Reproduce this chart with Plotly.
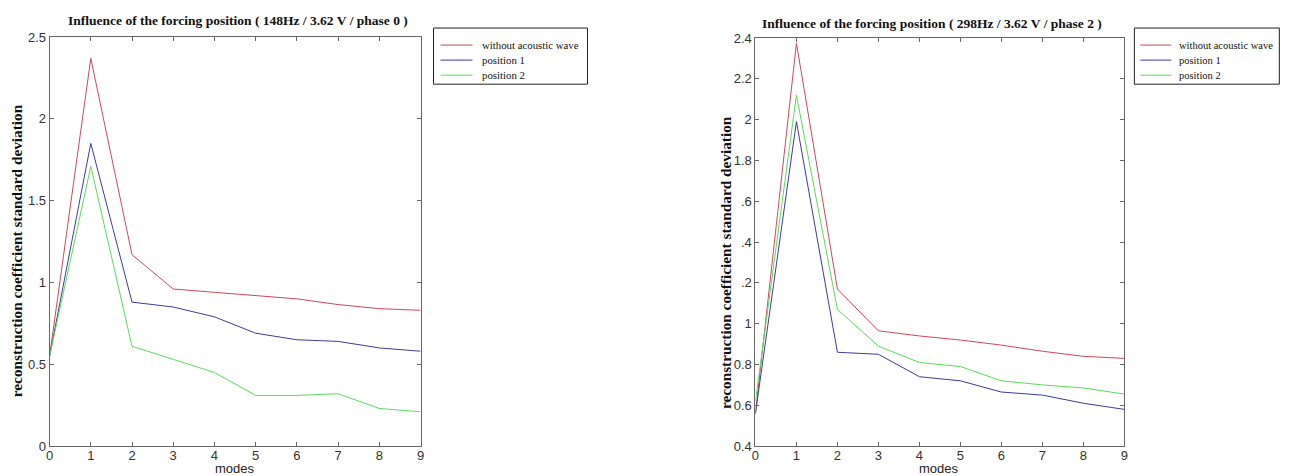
import plotly.graph_objects as go

modes = [0, 1, 2, 3, 4, 5, 6, 7, 8, 9]

# Left panel (148Hz / 3.62 V / phase 0)
left_without = [0.55, 2.37, 1.17, 0.96, 0.94, 0.92, 0.90, 0.865, 0.84, 0.83]
left_pos1 = [0.55, 1.85, 0.88, 0.85, 0.79, 0.69, 0.65, 0.64, 0.60, 0.58]
left_pos2 = [0.55, 1.71, 0.61, 0.53, 0.45, 0.31, 0.31, 0.32, 0.23, 0.21]

# Right panel (298Hz / 3.62 V / phase 2)
right_without = [0.56, 2.375, 1.17, 0.965, 0.94, 0.92, 0.895, 0.865, 0.84, 0.83]
right_pos1 = [0.56, 1.99, 0.86, 0.85, 0.74, 0.72, 0.665, 0.65, 0.61, 0.58]
right_pos2 = [0.62, 2.12, 1.07, 0.89, 0.81, 0.79, 0.72, 0.70, 0.685, 0.655]

series_names = ["without acoustic wave", "position 1", "position 2"]
left_ticks = [0, 0.5, 1, 1.5, 2, 2.5]
left_ticktext = ["0", "0.5", "1", "1.5", "2", "2.5"]
right_ticks = [0.4, 0.6, 0.8, 1.0, 1.2, 1.4, 1.6, 1.8, 2.0, 2.2, 2.4]
right_ticktext = ["0.4", "0.6", "0.8", "1", ".2", ".4", ".6", "1.8", "2", "2.2", "2.4"]
titles = ["Influence of the forcing position ( 148Hz / 3.62 V / phase 0 )",
          "Influence of the forcing position ( 298Hz / 3.62 V / phase 2 )"]
ylabel = "reconstruction coefficient standard deviation"
xlabel = "modes"

colors = ["#cc4858", "#3c3c98", "#5ada5a"]

W, H = 1291, 476
# empirical mapping of target picture pixels onto figure pixels
SX, OX = 0.994, 11.4
SY, OY = 0.966, 15.0


def px(x):
    return ((x - OX) / SX) / W


def py(y):
    return 1 - ((y - OY) / SY) / H


fig = go.Figure()
for name, ys, c in zip(series_names, [left_without, left_pos1, left_pos2], colors):
    fig.add_trace(go.Scatter(x=modes, y=ys, mode="lines", name=name,
                             line=dict(color=c, width=1), xaxis="x", yaxis="y",
                             showlegend=False))
for name, ys, c in zip(series_names, [right_without, right_pos1, right_pos2], colors):
    fig.add_trace(go.Scatter(x=modes, y=ys, mode="lines", name=name,
                             line=dict(color=c, width=1), xaxis="x2", yaxis="y2",
                             showlegend=False))

axis_common = dict(showline=True, linecolor="#666666", linewidth=1, mirror="ticks",
                   ticks="inside", ticklen=4, tickcolor="#666666", showgrid=False,
                   zeroline=False, tickfont=dict(family="Liberation Sans", size=13, color="#333333"))

fig.update_layout(
    width=W, height=H,
    margin=dict(l=0, r=0, t=0, b=0),
    paper_bgcolor="white", plot_bgcolor="white",
    showlegend=False,
    xaxis=dict(domain=[px(49), px(420)], range=[0, 9], tickvals=modes, anchor="y",
               ticklabelstandoff=-3, **axis_common),
    yaxis=dict(domain=[py(445), py(37)], range=[0, 2.5], tickvals=left_ticks,
               ticktext=left_ticktext, anchor="x", **axis_common),
    xaxis2=dict(domain=[px(755), px(1124)], range=[0, 9], tickvals=modes, anchor="y2",
                ticklabelstandoff=-3, **axis_common),
    yaxis2=dict(domain=[py(445), py(38)], range=[0.4, 2.4], tickvals=right_ticks,
                ticktext=right_ticktext, anchor="x2", **axis_common),
)

# Legend boxes with sample lines and labels
legend_boxes = [(433, 587, 440, 472, 479), (1134, 1279, 1140, 1171, 1177)]
legend_font = [10.8, 10.5]
for (lx, rx, l0, l1, tx), fs in zip(legend_boxes, legend_font):
    fig.add_shape(type="rect", xref="paper", yref="paper",
                  x0=px(lx), x1=px(rx), y0=py(28), y1=py(84),
                  line=dict(color="#222222", width=1), fillcolor="white", layer="above")
    for i, (name, c) in enumerate(zip(series_names, colors)):
        yy = 45 + i * 15
        fig.add_shape(type="line", xref="paper", yref="paper",
                      x0=px(l0), x1=px(l1), y0=py(yy), y1=py(yy),
                      line=dict(color=c, width=1), layer="above")
        fig.add_annotation(xref="paper", yref="paper", x=px(tx), y=py(yy),
                           xanchor="left", yanchor="middle", showarrow=False, text=name,
                           font=dict(family="Liberation Serif", size=fs, color="#111111"))

annots = [
    dict(text="<b>" + titles[0] + "</b>", x=px(237.5), y=py(20)),
    dict(text="<b>" + titles[1] + "</b>", x=px(932), y=py(23)),
    dict(text=xlabel, x=px(234), y=py(467), font=dict(family="Liberation Sans", size=13, color="#222222")),
    dict(text=xlabel, x=px(939), y=py(467), font=dict(family="Liberation Sans", size=13, color="#222222")),
    dict(text="<b>" + ylabel + "</b>", x=px(16), y=py(250), textangle=-90,
         font=dict(family="Liberation Serif", size=15.3, color="#111111")),
    dict(text="<b>" + ylabel + "</b>", x=px(725), y=py(262), textangle=-90,
         font=dict(family="Liberation Serif", size=15.3, color="#111111")),
]
for a in annots:
    font = a.pop("font", dict(family="Liberation Serif", size=13.5, color="#111111"))
    fig.add_annotation(xref="paper", yref="paper", xanchor="center", yanchor="middle",
                       showarrow=False, font=font, **a)

fig.write_html("out.html")
